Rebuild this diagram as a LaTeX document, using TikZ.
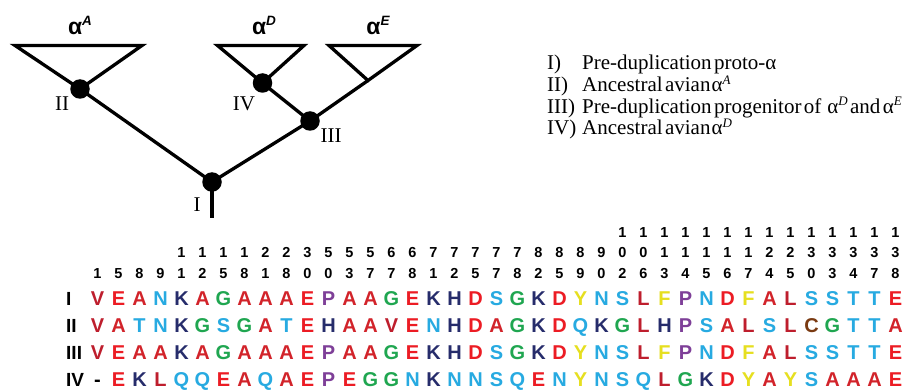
\documentclass[tikz,border=0pt]{standalone}
\usepackage{fontspec}
\setmainfont{Liberation Serif}
\setsansfont{Liberation Sans}
\newfontfamily\legfont[WordSpace=0.45]{Liberation Serif}
\newfontfamily\sansf{Liberation Sans}

\definecolor{cRed}{HTML}{EC1C24}
\definecolor{cAla}{HTML}{D2232A}
\definecolor{cDark}{HTML}{BE1E2D}
\definecolor{cCyan}{HTML}{27AAE1}
\definecolor{cNavy}{HTML}{262C6B}
\definecolor{cGreen}{HTML}{1FA650}
\definecolor{cPurple}{HTML}{7E3F98}
\definecolor{cYellow}{HTML}{E6DF1F}
\definecolor{cBrown}{HTML}{7A3A12}

\def\rcV{cDark}\def\rcL{cDark}\def\rcA{cAla}\def\rcE{cRed}\def\rcD{cRed}
\def\rcN{cCyan}\def\rcS{cCyan}\def\rcT{cCyan}\def\rcQ{cCyan}
\def\rcK{cNavy}\def\rcH{cNavy}\def\rcG{cGreen}\def\rcP{cPurple}
\def\rcY{cYellow}\def\rcF{cYellow}\def\rcC{cBrown}
\expandafter\def\csname rc-\endcsname{black}

\newcommand\asup[1]{α\raisebox{9.5pt}{\fontsize{13.5}{13.5}\selectfont\itshape #1}}
\newcommand\lsup[1]{α\raisebox{7.5pt}{\fontsize{13}{13}\selectfont\itshape #1}}

\newcommand\seqrow[3]{%
  \foreach \r [count=\i] in {#3} {%
    \pgfmathsetmacro\xx{97.5+(\i-1)*21.0}%
    \edef\cc{\csname rc\r\endcsname}%
    \node[res, text=\cc] (s#1c\i) at (\xx,#2) {\r};
  }}

\tikzset{
  branch/.style={line width=3.3pt, line join=miter},
  dot/.style={circle, fill=black, minimum size=19.5pt, inner sep=0pt},
  treelab/.style={font=\fontsize{21}{24}\selectfont, inner sep=0pt, anchor=base},
  alab/.style={font=\sansf\bfseries\fontsize{23}{26}\selectfont, inner sep=0pt, anchor=base},
  legtxt/.style={font=\legfont\fontsize{21}{24}\selectfont, inner sep=0pt, anchor=base west},
  res/.style={font=\sansf\bfseries\fontsize{20}{22}\selectfont, inner sep=0pt, anchor=base},
  num/.style={font=\sansf\bfseries\fontsize{14.5}{16}\selectfont, inner sep=0pt, anchor=base},
  rowlab/.style={font=\sansf\bfseries\fontsize{19}{22}\selectfont, inner sep=0pt, anchor=base west},
}

\begin{document}
\begin{tikzpicture}[x=1pt,y=-1pt]
\useasboundingbox (0,0) rectangle (905,390);
\fill[white] (0,0) rectangle (905,390);

% ---------- tree ----------
\node[dot] (nI) at (212,182) {};
\node[dot] (nII) at (80,89) {};
\node[dot] (nIII) at (310,121) {};
\node[dot] (nIV) at (262.5,83) {};
\coordinate (A1) at (15,45.5);
\coordinate (A2) at (142,45.5);
\coordinate (D1) at (217.5,45.5);
\coordinate (D2) at (304,45.5);
\coordinate (E1) at (329,45.5);
\coordinate (E2) at (417,45.5);
\coordinate (Ej) at (368,80.5);
\coordinate (root) at (212,218);

\draw[branch] (A1) -- (A2) -- (nII.center) -- cycle;
\draw[branch] (D1) -- (D2) -- (nIV.center) -- cycle;
\draw[branch] (E1) -- (E2) -- (Ej) -- cycle;
\draw[branch] (nII.center) -- (nI.center) -- (nIII.center) -- (Ej);
\draw[branch] (nIV.center) -- (nIII.center);
\draw[branch] (nI.center) -- (root);

\node[treelab] (lI) at (197,212) {I};
\node[treelab] (lII) at (62,111) {II};
\node[treelab] (lIII) at (331,143) {III};
\node[treelab] (lIV) at (244,111) {IV};

\node[alab] (aA) at (80,35) {\asup{A}};
\node[alab] (aD) at (264,35) {\asup{D}};
\node[alab] (aE) at (378,35) {\asup{E}};

% ---------- legend ----------
\node[legtxt] (k1) at (547,70) {I)};
\node[legtxt] (k2) at (547,92) {II)};
\node[legtxt] (k3) at (547,113.5) {III)};
\node[legtxt] (k4) at (547,135) {IV)};
\node[legtxt] (t1) at (582,70) {Pre-duplication proto-α};
\node[legtxt] (t2) at (582,92) {Ancestral avian\hspace{1pt}\lsup{A}};
\node[legtxt] (t3) at (582,113.5) {Pre-duplication progenitor of\hspace{6pt}\lsup{D} and \lsup{E}};
\node[legtxt] (t4) at (582,135) {Ancestral avian\hspace{1pt}\lsup{D}};

% ---------- position numbers ----------
\foreach \i in {26,...,39} {
  \pgfmathsetmacro\xx{97.5+(\i-1)*21.0}
  \node[num] (h\i) at (\xx,237) {1};
}
\foreach \d [count=\i from 5] in {1,1,1,1,2,2,3,5,5,5,6,6,7,7,7,7,7,8,8,8,9,0,0,1,1,1,1,1,2,2,3,3,3,3,3} {
  \pgfmathsetmacro\xx{97.5+(\i-1)*21.0}
  \node[num] (t\i) at (\xx,258) {\d};
}
\foreach \d [count=\i] in {1,5,8,9,1,2,5,8,1,8,0,0,3,7,7,8,1,2,5,7,8,2,5,9,0,2,6,3,4,5,6,7,4,5,0,3,4,7,8} {
  \pgfmathsetmacro\xx{97.5+(\i-1)*21.0}
  \node[num] (u\i) at (\xx,278) {\d};
}

% ---------- sequences ----------
\node[rowlab] (rI) at (66,305) {I};
\node[rowlab] (rII) at (66,332) {II};
\node[rowlab] (rIII) at (66,359) {III};
\node[rowlab] (rIV) at (66,386) {IV};

\seqrow{1}{305}{V,E,A,N,K,A,G,A,A,A,E,P,A,A,G,E,K,H,D,S,G,K,D,Y,N,S,L,F,P,N,D,F,A,L,S,S,T,T,E}
\seqrow{2}{332}{V,A,T,N,K,G,S,G,A,T,E,H,A,A,V,E,N,H,D,A,G,K,D,Q,K,G,L,H,P,S,A,L,S,L,C,G,T,T,A}
\seqrow{3}{359}{V,E,A,A,K,A,G,A,A,A,E,P,A,A,G,E,K,H,D,S,G,K,D,Y,N,S,L,F,P,N,D,F,A,L,S,S,T,T,E}
\seqrow{4}{386}{-,E,K,L,Q,Q,E,A,Q,A,E,P,E,G,G,N,K,N,N,S,Q,E,N,Y,N,S,Q,L,G,K,D,Y,A,Y,S,A,A,A,E}
\end{tikzpicture}
\end{document}
